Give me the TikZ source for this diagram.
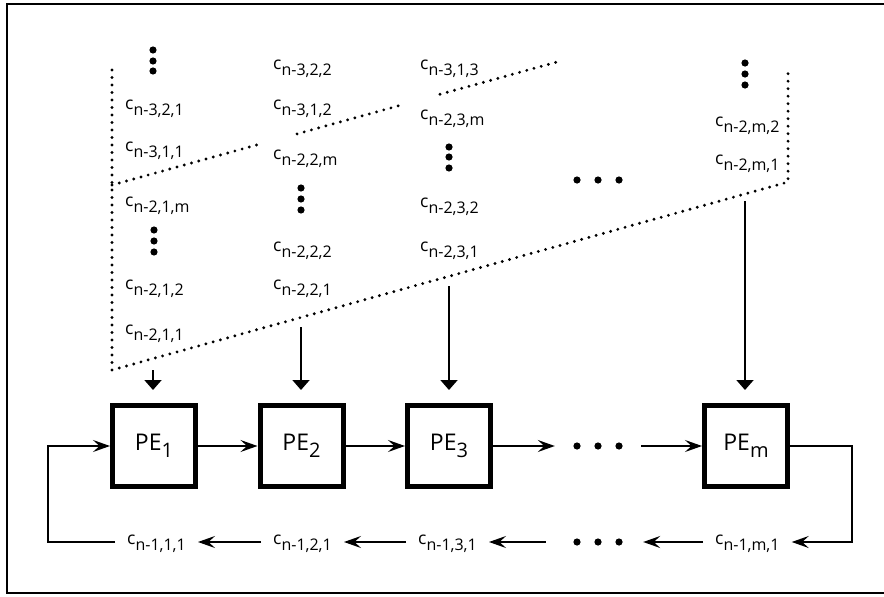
\documentclass[tikz,border=0pt]{standalone}
\usepackage{fontspec}
\setmainfont{Open Sans}
\usetikzlibrary{arrows.meta}
% coefficient label: c with a lowered index string
\newcommand\cidx[1]{c\raisebox{-6pt}{\fontsize{16}{16}\selectfont #1}}
% processing element label
\newcommand\peidx[1]{PE\raisebox{-6.5pt}{\fontsize{20}{20}\selectfont #1}}
\begin{document}
\begin{tikzpicture}[x=1pt,y=-1pt,
  frame/.style={line width=2.2pt},
  lab/.style={anchor=base west, inner sep=0pt, font=\fontsize{17.5}{17.5}\selectfont},
  blab/.style={anchor=base west, inner xsep=12pt, inner ysep=0pt,
    text height=12pt, text depth=8pt, font=\fontsize{17.5}{17.5}\selectfont},
  pebox/.style={draw, line width=5pt, minimum width=83pt, minimum height=81pt,
    inner sep=0pt, font=\fontsize{23}{23}\selectfont},
  gap/.style={inner sep=0pt, minimum height=8pt},
  harr/.style={line width=1.6pt, -{Stealth[length=17pt,width=12pt,inset=6.5pt]}},
  varr/.style={line width=1.8pt, -{Triangle[length=10pt,width=17pt]}, shorten >=13pt},
  dotline/.style={line width=3.2pt, line cap=round, dash pattern=on 0pt off 7.5pt},
  bigdot/.style={fill=black}
]
\useasboundingbox (0,0) rectangle (884,597);

% outer frame (open on the right)
\draw[frame] (884,4) -- (7,4) -- (7,593) -- (884,593);

% ---- coefficient columns ----
\node[lab] (a1) at (125,109) {\cidx{n-3,2,1}};
\node[lab] (a2) at (125,151) {\cidx{n-3,1,1}};
\node[lab] (a3) at (125,206) {\cidx{n-2,1,m}};
\node[lab] (a4) at (125,289) {\cidx{n-2,1,2}};
\node[lab] (a5) at (125,334) {\cidx{n-2,1,1}};

\node[lab] (b1) at (273,69)  {\cidx{n-3,2,2}};
\node[lab] (b2) at (273,109) {\cidx{n-3,1,2}};
\node[lab] (b3) at (273,159) {\cidx{n-2,2,m}};
\node[lab] (b4) at (273,251) {\cidx{n-2,2,2}};
\node[lab] (b5) at (273,289) {\cidx{n-2,2,1}};

\node[lab] (c1) at (420,69)  {\cidx{n-3,1,3}};
\node[lab] (c2) at (420,119) {\cidx{n-2,3,m}};
\node[lab] (c3) at (420,207) {\cidx{n-2,3,2}};
\node[lab] (c4) at (420,251) {\cidx{n-2,3,1}};

\node[lab] (m1) at (715,126) {\cidx{n-2,m,2}};
\node[lab] (m2) at (715,164) {\cidx{n-2,m,1}};

% vertical ellipses in the columns
\foreach \x/\y in {153/50, 153/61, 153/71,
                   154/230, 154/241, 154/252,
                   301/188, 301/199, 301/210,
                   449/147, 449/157, 449/168,
                   745/63, 745/74, 745/85}
  \fill[bigdot] (\x,\y) circle (3.6pt);
% horizontal ellipsis between the columns
\foreach \x in {577,598,619}
  \fill[bigdot] (\x,180) circle (3.6pt);

% ---- dotted boundaries of the current wavefront ----
\coordinate (tl) at (112,70);
\coordinate (bl) at (112,370);
\coordinate (br) at (788,182);
\coordinate (tr) at (788,73);
\draw[dotline] (tl) -- (bl) -- (br) -- (tr);
\coordinate (u0) at (112,185);
\coordinate (u1) at (262,143.5);
\coordinate (u2) at (297,133.9);
\coordinate (u3) at (405,104);
\coordinate (u4) at (440,94.3);
\coordinate (u5) at (557,62);
\draw[dotline] (u0) -- (u1);
\draw[dotline] (u2) -- (u3);
\draw[dotline] (u4) -- (u5);

% ---- processing elements ----
\node[pebox] (pe1) at (154,446) {\peidx{1}};
\node[pebox] (pe2) at (301.5,446) {\peidx{2}};
\node[pebox] (pe3) at (449,446) {\peidx{3}};
\node[pebox] (pem) at (746,446) {\peidx{m}};
\node[gap, minimum width=86pt] (mid) at (598,446) {};
\foreach \x in {577,598,619}
  \fill[bigdot] (\x,446) circle (3.6pt);

% inputs from the columns
\coordinate (in1) at (153,370);
\coordinate (in2) at (301,327);
\coordinate (in3) at (449,286);
\coordinate (inm) at (745,201);
\draw[varr] (in1) -- (in1 |- pe1.north);
\draw[varr] (in2) -- (in2 |- pe2.north);
\draw[varr] (in3) -- (in3 |- pe3.north);
\draw[varr] (inm) -- (inm |- pem.north);

% pipeline
\draw[harr] (pe1.east) -- (pe2.west);
\draw[harr] (pe2.east) -- (pe3.west);
\draw[harr] (pe3.east) -- (mid.west);
\draw[harr] (mid.east) -- (pem.west);

% ---- returning row ----
\node[blab] (r1) at (115,544) {\cidx{n-1,1,1}};
\node[blab] (r2) at (261,544) {\cidx{n-1,2,1}};
\node[blab] (r3) at (406,544) {\cidx{n-1,3,1}};
\node[blab] (rm) at (703,544) {\cidx{n-1,m,1}};
\node[gap, minimum width=97pt] (low) at (594.5,542) {};
\foreach \x in {577,598,619}
  \fill[bigdot] (\x,542) circle (3.6pt);

\coordinate (cr) at (852,446);
\coordinate (cl) at (48,446);
\draw[harr] (pem.east) -- (cr) -- (cr |- rm.east) -- (rm.east);
\draw[harr] (rm.west) -- (low.east);
\draw[harr] (low.west) -- (r3.east);
\draw[harr] (r3.west) -- (r2.east);
\draw[harr] (r2.west) -- (r1.east);
\draw[harr] (r1.west) -- (cl |- r1.west) -- (cl) -- (pe1.west);
\end{tikzpicture}
\end{document}
